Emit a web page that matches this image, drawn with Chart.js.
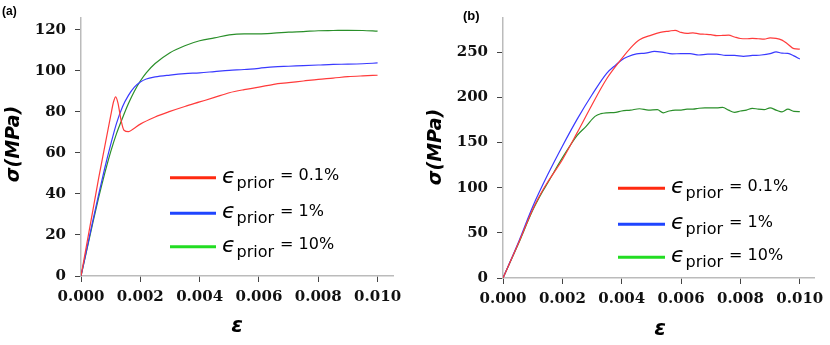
<!DOCTYPE html>
<html>
<head>
<meta charset="utf-8">
<script src="https://cdn.jsdelivr.net/npm/chart.js@4"></script>
<style>
  html, body { margin:0; padding:0; background:#fff; }
  #wrap { position:relative; width:830px; height:345px; overflow:hidden; }
  canvas { position:absolute; top:0; }
  #ca { left:0; }
  #cb { left:415px; }
</style>
</head>
<body>
<div id="wrap">
  <canvas id="ca" width="415" height="345"></canvas>
  <canvas id="cb" width="415" height="345"></canvas>
</div>
<script>
// ---------------- DATA ----------------
const panelLabels = ['(a)', '(b)'];
const legendLabels = ['= 0.1%', '= 1%', '= 10%'];
const xTickValues = [0, 0.002, 0.004, 0.006, 0.008, 0.010];
const yTicksA = [0, 20, 40, 60, 80, 100, 120];
const yTicksB = [0, 50, 100, 150, 200, 250];
const yTitle = 'σ(MPa)';
const xTitle = 'ε';

// Panel (a)
const strainRedA = [0, 0.0002, 0.0004, 0.0006, 0.0008, 0.0010, 0.00110, 0.00117, 0.00125, 0.00135, 0.00145, 0.00160, 0.00175, 0.0020, 0.0025, 0.0030, 0.0035, 0.0040, 0.0045, 0.0050, 0.0055, 0.0060, 0.0065, 0.0070, 0.0075, 0.0080, 0.0085, 0.0090, 0.0095, 0.0100];
const stressRedA = [0, 16, 32, 48, 63, 78, 85, 87.3, 84, 76, 71, 70.3, 71.5, 74, 77.5, 80.2, 82.6, 84.8, 87, 89.3, 90.8, 92, 93.4, 94.2, 95, 95.8, 96.4, 97.1, 97.5, 97.8];
const strainBlueA = [0, 0.0002, 0.0004, 0.0006, 0.0008, 0.0010, 0.0012, 0.0014, 0.0016, 0.0018, 0.0020, 0.0022, 0.0025, 0.0030, 0.0035, 0.0040, 0.0045, 0.0050, 0.0055, 0.0060, 0.0065, 0.0070, 0.0075, 0.0080, 0.0085, 0.0090, 0.0095, 0.0100];
const stressBlueA = [0, 13.5, 27, 40, 52.5, 64, 74.5, 82.5, 88, 92, 94.5, 96, 97, 97.9, 98.6, 99, 99.6, 100.2, 100.6, 101.2, 101.9, 102.2, 102.5, 102.8, 103.1, 103.2, 103.4, 103.8];
const strainGreenA = [0, 0.0002, 0.0004, 0.0006, 0.0008, 0.0010, 0.0012, 0.0014, 0.0016, 0.0018, 0.0020, 0.0022, 0.0025, 0.0030, 0.0035, 0.0040, 0.0045, 0.0050, 0.0055, 0.0060, 0.0065, 0.0070, 0.0075, 0.0080, 0.0085, 0.0090, 0.0095, 0.0100];
const stressGreenA = [0, 13, 26, 38.5, 50, 60.5, 69.5, 77, 84, 90, 95, 99, 103.5, 108.8, 112.2, 114.6, 116, 117.5, 118, 118, 118.3, 118.8, 119.1, 119.5, 119.6, 119.7, 119.6, 119.3];

// Panel (b)
const strainRedB = [0, 0.0005, 0.0010, 0.0013, 0.0015, 0.0020, 0.0025, 0.0030, 0.0035, 0.0040, 0.0043, 0.0046, 0.0050, 0.0053, 0.0056, 0.0058, 0.0060, 0.0062, 0.0064, 0.0066, 0.0068, 0.0070, 0.0072, 0.0074, 0.0076, 0.0078, 0.0080, 0.0082, 0.0084, 0.0086, 0.0088, 0.0090, 0.0092, 0.0094, 0.0096, 0.0098, 0.0100];
const stressRedB = [0, 37, 76, 95, 106, 131, 161, 192, 221, 243, 255, 264, 269, 272, 273.5, 274.4, 272, 271, 271.5, 270.5, 270, 269.5, 268.5, 268.7, 269, 267, 265.3, 265, 265.5, 265, 264.5, 266, 265.5, 263.5, 259, 254, 253.6];
const strainBlueB = [0, 0.0005, 0.0010, 0.0015, 0.0020, 0.0025, 0.0030, 0.0035, 0.0038, 0.0040, 0.0042, 0.0045, 0.0048, 0.0051, 0.0054, 0.0057, 0.0060, 0.0063, 0.0066, 0.0069, 0.0072, 0.0075, 0.0078, 0.0081, 0.0084, 0.0087, 0.0090, 0.0092, 0.0094, 0.0096, 0.0098, 0.0100];
const stressBlueB = [0, 38, 79, 114, 146, 176, 203, 227, 236, 241.5, 245, 248.3, 249, 251, 250, 248.3, 248.5, 248.5, 247, 248, 248, 246.5, 246.5, 245.5, 246.5, 247, 248.5, 250.5, 249, 248.8, 246, 242.6];
const strainGreenB = [0, 0.0005, 0.0010, 0.0013, 0.0015, 0.0020, 0.0025, 0.0028, 0.0031, 0.0033, 0.0035, 0.0038, 0.0040, 0.0043, 0.0046, 0.0049, 0.0052, 0.0054, 0.0056, 0.0058, 0.0060, 0.0062, 0.0064, 0.0066, 0.0068, 0.0070, 0.0072, 0.0074, 0.0076, 0.0078, 0.0080, 0.0082, 0.0084, 0.0086, 0.0088, 0.0090, 0.0092, 0.0094, 0.0096, 0.0098, 0.0100];
const stressGreenB = [0, 36.5, 75, 94, 105, 133, 158, 168, 179, 182, 183, 183.5, 185, 186, 187.5, 186, 186.5, 183, 185, 186, 186, 187, 187, 188, 188.5, 188.5, 188.5, 189, 186, 183.5, 185, 186, 188, 187, 186.5, 188.5, 186, 184, 187, 184.5, 184.3];

// ---------------- STYLE ----------------
const lineColors = ['#ff3b3b', '#3a3aff', '#2a8f2a'];
const legendColors = ['#ff2a10', '#1f45ff', '#22dd22'];

function pts(xs, ys) { return xs.map((x, i) => ({ x: x, y: ys[i] })); }

function makePanel(canvasId, cfg) {
  const tickFont = { family: 'DejaVu Serif', weight: 'bold', size: 15 };
  const overlay = {
    id: 'overlay_' + canvasId,
    afterDraw(chart) {
      const ctx = chart.ctx;
      ctx.save();
      // panel label
      ctx.fillStyle = '#000';
      ctx.font = 'bold ' + cfg.panelSize + 'px "Liberation Sans", Arial, sans-serif';
      ctx.textBaseline = 'alphabetic';
      ctx.textAlign = 'left';
      ctx.fillText(cfg.panel, cfg.panelX, cfg.panelY);
      // y title
      ctx.save();
      ctx.translate(cfg.yTitleX, cfg.yTitleY);
      ctx.rotate(-Math.PI / 2);
      ctx.font = 'italic bold 19px "DejaVu Sans"';
      ctx.textAlign = 'center';
      ctx.textBaseline = 'middle';
      ctx.fillText(yTitle, 0, 0);
      ctx.restore();
      // x title
      ctx.font = 'italic bold 21px "DejaVu Sans"';
      ctx.textAlign = 'center';
      ctx.textBaseline = 'middle';
      ctx.fillText(xTitle, cfg.xTitleX, cfg.xTitleY);
      // legend
      ctx.textAlign = 'left';
      ctx.textBaseline = 'alphabetic';
      legendLabels.forEach((lab, i) => {
        const ly = cfg.legY[i];
        ctx.strokeStyle = legendColors[i];
        ctx.lineWidth = 3;
        ctx.beginPath();
        ctx.moveTo(cfg.legX0, ly);
        ctx.lineTo(cfg.legX1, ly);
        ctx.stroke();
        ctx.fillStyle = '#000';
        let x = cfg.legX1 + 6;
        ctx.font = 'italic 22px "DejaVu Sans"';
        ctx.fillText('ϵ', x, ly + 5);
        x += ctx.measureText('ϵ').width + 1;
        ctx.font = '16px "DejaVu Sans"';
        ctx.fillText('prior', x, ly + 10);
        x += ctx.measureText('prior').width + 6;
        ctx.fillText(lab, x, ly + 2.5);
      });
      ctx.restore();
    }
  };
  return new Chart(document.getElementById(canvasId), {
    type: 'scatter',
    data: {
      datasets: cfg.series.map((s, i) => ({
        data: pts(s[0], s[1]),
        showLine: true,
        borderColor: lineColors[i],
        backgroundColor: lineColors[i],
        borderWidth: 1.2,
        pointRadius: 0,
        cubicInterpolationMode: 'monotone'
      }))
    },
    options: {
      responsive: false,
      animation: false,
      devicePixelRatio: 1,
      layout: { padding: { left: 0, top: cfg.top, right: cfg.right, bottom: 0 } },
      plugins: { legend: { display: false }, tooltip: { enabled: false } },
      scales: {
        x: {
          type: 'linear',
          min: 0,
          max: cfg.xMax,
          afterBuildTicks: s => { s.ticks = xTickValues.map(v => ({ value: v })); },
          afterFit: s => { s.height = cfg.xScaleH; },
          ticks: { font: tickFont, color: '#111', padding: 6, maxRotation: 0, autoSkip: false,
                   callback: v => v.toFixed(3) },
          grid: { drawOnChartArea: false, tickLength: 6, tickColor: '#444', tickWidth: 1 },
          border: { color: '#bbbbbb', width: 1.5 }
        },
        y: {
          type: 'linear',
          min: 0,
          max: cfg.yMax,
          afterBuildTicks: s => { s.ticks = cfg.yTicks.map(v => ({ value: v })); },
          afterFit: s => { s.width = cfg.yScaleW; },
          ticks: { font: tickFont, color: '#111', padding: 9, autoSkip: false,
                   callback: v => String(v) },
          grid: { drawOnChartArea: false, tickLength: 6, tickColor: '#444', tickWidth: 1 },
          border: { color: '#bbbbbb', width: 1.5 }
        }
      }
    },
    plugins: [overlay]
  });
}

makePanel('ca', {
  panel: panelLabels[0], panelX: 2, panelY: 15, panelSize: 12,
  series: [[strainRedA, stressRedA], [strainBlueA, stressBlueA], [strainGreenA, stressGreenA]],
  yTicks: yTicksA, yMax: 125.7, xMax: 0.01052,
  top: 13, right: 22, yScaleW: 81, xScaleH: 69,
  yTitleX: 14, yTitleY: 144, xTitleX: 237, xTitleY: 327,
  legX0: 170, legX1: 216, legY: [177.7, 213.3, 246.7]
});

makePanel('cb', {
  panel: panelLabels[1], panelX: 48, panelY: 20, panelSize: 13,
  series: [[strainRedB, stressRedB], [strainBlueB, stressBlueB], [strainGreenB, stressGreenB]],
  yTicks: yTicksB, yMax: 288, xMax: 0.0105,
  top: 15, right: 15, yScaleW: 88, xScaleH: 67,
  yTitleX: 21, yTitleY: 147, xTitleX: 245, xTitleY: 330,
  legX0: 203, legX1: 250, legY: [188.3, 224.3, 257.3]
});
</script>
</body>
</html>
